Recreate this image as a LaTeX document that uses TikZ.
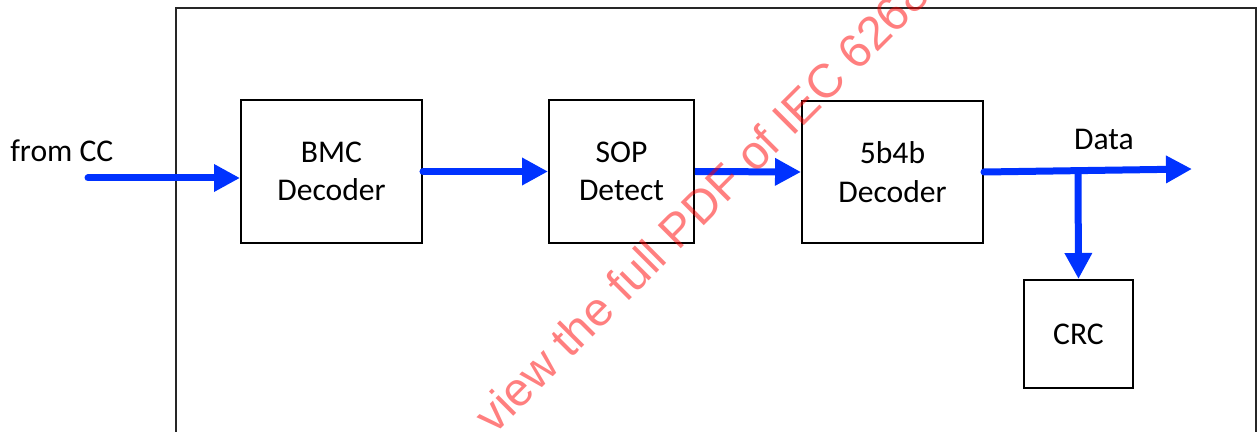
\documentclass[tikz,border=0pt]{standalone}
\usepackage{fontspec}
\setmainfont{Carlito}
\newfontfamily\wmfont{Liberation Sans}
\usetikzlibrary{arrows.meta,calc}
\definecolor{flowblue}{RGB}{0,50,255}
\tikzset{
  blockbox/.style={draw=black,line width=0.04cm,minimum height=2.86cm,align=center,inner sep=0pt,font=\fontsize{18}{22}\selectfont},
  flow/.style={draw=flowblue,line width=0.14cm,-{Triangle[length=0.52cm,width=0.52cm]}},
  lbl/.style={font=\fontsize{18}{22}\selectfont,inner sep=0pt}
}
\begin{document}
\begin{tikzpicture}[x=0.02cm,y=-0.02cm]
\useasboundingbox (0,0) rectangle (1259,432);
\begin{scope}
\clip (0,0) rectangle (1259,432);
% outer frame
\draw[line width=0.04cm,black!85] (176,450) -- (176,8) -- (1256,8) -- (1256,450);
% blocks
\node[blockbox,minimum width=3.62cm] (bmc) at (331.5,171.5) {BMC\\Decoder};
\node[blockbox,minimum width=2.90cm] (sop) at (621.5,171.5) {SOP\\Detect};
\node[blockbox,minimum width=3.62cm] (dec) at (892.5,172) {5b4b\\Decoder};
\node[blockbox,minimum width=2.18cm,minimum height=2.16cm] (crc) at (1078.5,334) {CRC};
% labels
\node[lbl,anchor=base west] (cc) at (10,162) {from CC};
\node[lbl,anchor=base] (data) at (1104,150) {Data};
% connectors
\coordinate (ccstart) at (88,178);
\coordinate (dataend) at (1192,169);
\coordinate (branch) at (1078,171);
\draw[flow,line cap=round] (ccstart) -- (bmc.west |- ccstart);
\draw[flow,line cap=round] (bmc.east) -- (sop.west);
\draw[flow] (sop.east) -- (dec.west);
\draw[flow,line cap=round] (dec.east) -- (dataend);
\draw[flow] (branch) -- (crc.north);
% watermark
\node[anchor=base west,rotate=45,inner sep=0pt,text=red,opacity=0.5,font=\wmfont\fontsize{27}{31}\selectfont] (wm) at (494,436) {view the full PDF of IEC 62680};
\end{scope}
\end{tikzpicture}
\end{document}
